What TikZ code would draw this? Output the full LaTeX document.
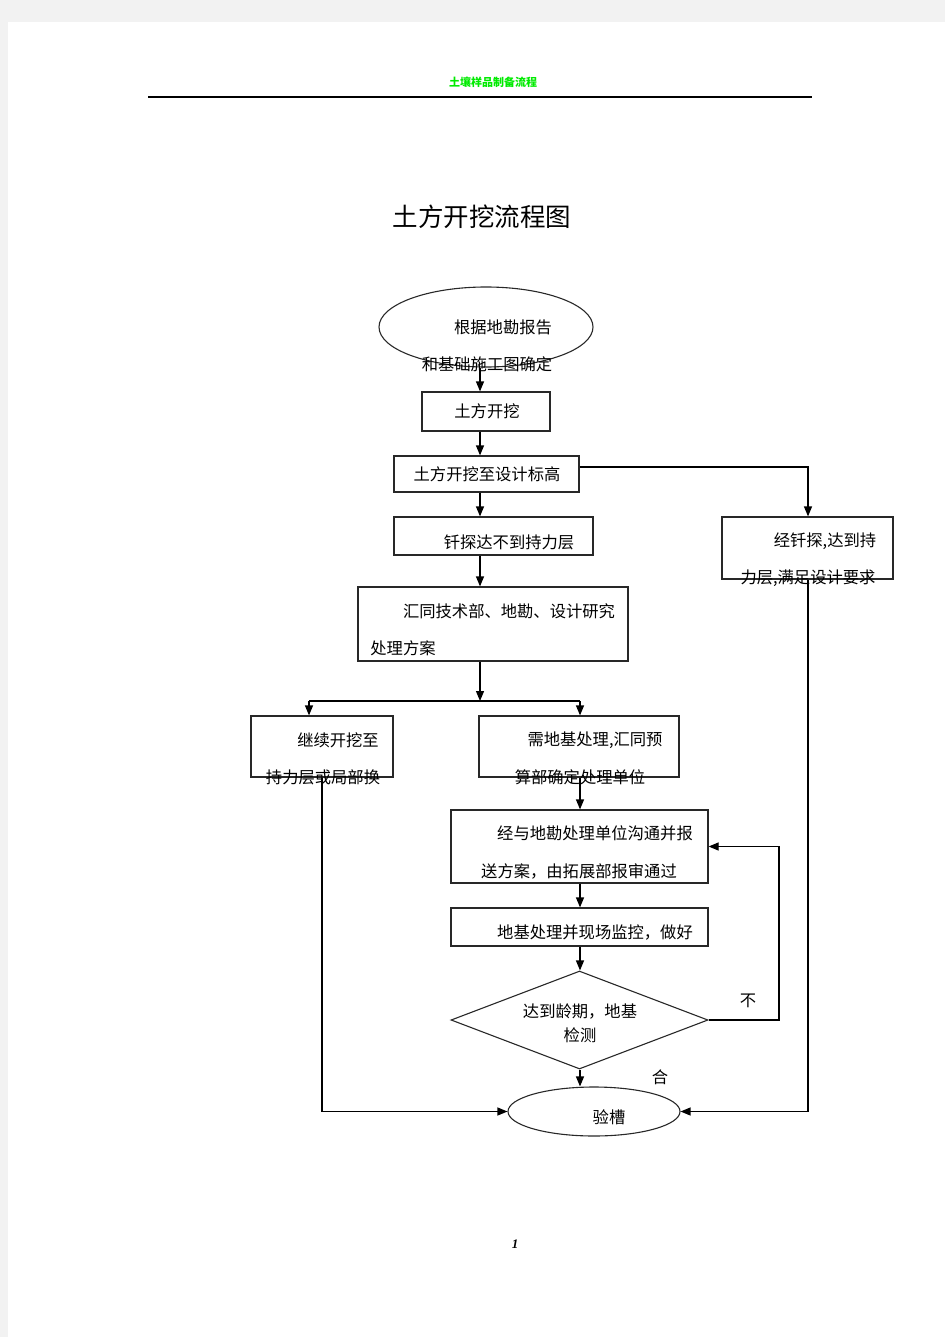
\documentclass[tikz,border=0pt]{standalone}
\usepackage{fontspec}
\newfontfamily\cjk{Noto Sans CJK SC}
\setmainfont{Liberation Serif}
\usetikzlibrary{shapes.geometric,arrows.meta}
\definecolor{pagegrey}{RGB}{242,242,242}
\definecolor{hdrgreen}{RGB}{0,235,0}
\definecolor{linegrey}{RGB}{40,40,40}
\tikzset{
  box/.style={draw=linegrey, line width=1.2pt, rectangle, inner sep=0pt},
  oval/.style={draw=linegrey, line width=1.1pt, ellipse, inner sep=0pt},
  dia/.style={draw=linegrey, line width=1.1pt, diamond, inner sep=0pt, aspect=2.6},
  lbl/.style={font=\cjk\fontsize{16.3}{19}\selectfont, inner sep=0pt, text=black},
  conn/.style={draw=black, line width=1.2pt},
  arr/.style={conn, -{Triangle[length=10pt,width=8pt]}}
}
\begin{document}
\begin{tikzpicture}[x=1pt,y=-1pt]
\useasboundingbox (0,0) rectangle (945,1337);
\fill[pagegrey] (0,0) rectangle (945,1337);
\fill[white] (8,22) rectangle (945,1337);
% header
\node[font=\cjk\bfseries\fontsize{11}{13}\selectfont, text=hdrgreen, inner sep=0pt] (hdr) at (493,82) {土壤样品制备流程};
\draw[line width=1.2pt] (148,97) -- (812,97);
% title
\node[font=\cjk\fontsize{25.5}{29}\selectfont, inner sep=0pt] (title) at (482,217) {土方开挖流程图};
% helper columns
\coordinate (cx) at (480,0);
\coordinate (c2) at (580,0);
\coordinate (r1) at (808,467);
\coordinate (r2) at (779,0);
\coordinate (l1) at (322,0);
\coordinate (split) at (480,701);
\coordinate (sl) at (309,701);
\coordinate (sr) at (580,701);
% shapes
\node[oval, minimum width=214pt, minimum height=80pt] (e1) at (486,327) {};
\node[box, minimum width=128pt, minimum height=39pt] (b1) at (486,411.5) {};
\node[box, minimum width=185pt, minimum height=36pt] (b2) at (486.5,474) {};
\node[box, minimum width=199pt, minimum height=38pt] (b3) at (493.5,536) {};
\node[box, minimum width=171pt, minimum height=62pt] (b4) at (807.5,548) {};
\node[box, minimum width=270pt, minimum height=74pt] (b5) at (493,624) {};
\node[box, minimum width=142pt, minimum height=61pt] (b6) at (322,746.5) {};
\node[box, minimum width=200pt, minimum height=61pt] (b7) at (579,746.5) {};
\node[box, minimum width=257pt, minimum height=73pt] (b8) at (579.5,846.5) {};
\node[box, minimum width=257pt, minimum height=38pt] (b9) at (579.5,927) {};
\node[dia, minimum width=257pt, minimum height=98pt] (d) at (579.5,1020) {};
\node[oval, minimum width=172pt, minimum height=49pt] (e2) at (594,1111.5) {};
% texts
\node[lbl] (t1a) at (503,327) {根据地勘报告};
\node[lbl] (t1b) at (487,364) {和基础施工图确定};
\node[lbl] (t2) at (487,411) {土方开挖};
\node[lbl] (t3) at (487,474) {土方开挖至设计标高};
\node[lbl] (t4) at (509,542) {钎探达不到持力层};
\node[lbl] (t5a) at (825,541) {经钎探,达到持};
\node[lbl] (t5b) at (808,578) {力层,满足设计要求};
\node[lbl] (t6a) at (509,611) {汇同技术部、地勘、设计研究};
\node[lbl] (t6b) at (403,648) {处理方案};
\node[lbl] (t7a) at (338,740) {继续开挖至};
\node[lbl] (t7b) at (323,777) {持力层或局部换};
\node[lbl] (t8a) at (595,740) {需地基处理,汇同预};
\node[lbl] (t8b) at (580,777) {算部确定处理单位};
\node[lbl] (t9a) at (595,833) {经与地勘处理单位沟通并报};
\node[lbl] (t9b) at (579,871) {送方案，由拓展部报审通过};
\node[lbl] (t10) at (595,932) {地基处理并现场监控，做好};
\node[lbl] (t11a) at (580,1011) {达到龄期，地基};
\node[lbl] (t11b) at (580,1035) {检测};
\node[lbl] (t12) at (609,1117) {验槽};
\node[lbl] (no) at (748,1001) {不};
\node[lbl] (ok) at (660,1077) {合};
\node[font=\bfseries\itshape\fontsize{13}{15}\selectfont, inner sep=0pt] (pg) at (515,1244) {1};
% connectors
\draw[arr] (e1.south -| cx) -- (b1.north -| cx);
\draw[arr] (b1.south -| cx) -- (b2.north -| cx);
\draw[arr] (b2.south -| cx) -- (b3.north -| cx);
\draw[arr] (b3.south -| cx) -- (b5.north -| cx);
\draw[arr] (b2.east |- r1) -- (r1) -- (b4.north -| r1);
\draw[arr] (b4.south -| r1) |- (e2.east);
\draw[arr] (b5.south -| cx) -- (split);
\draw[conn] (sl) -- (sr);
\draw[arr] (sl) -- (b6.north -| sl);
\draw[arr] (sr) -- (b7.north -| sr);
\draw[arr] (b6.south -| l1) |- (e2.west);
\draw[arr] (b7.south -| c2) -- (b8.north -| c2);
\draw[arr] (b8.south -| c2) -- (b9.north -| c2);
\draw[arr] (b9.south -| c2) -- (d.north -| c2);
\draw[arr] (d.south -| c2) -- (e2.north -| c2);
\draw[arr] (d.east) -| (r2 |- b8.east) -- (b8.east);
\end{tikzpicture}
\end{document}
